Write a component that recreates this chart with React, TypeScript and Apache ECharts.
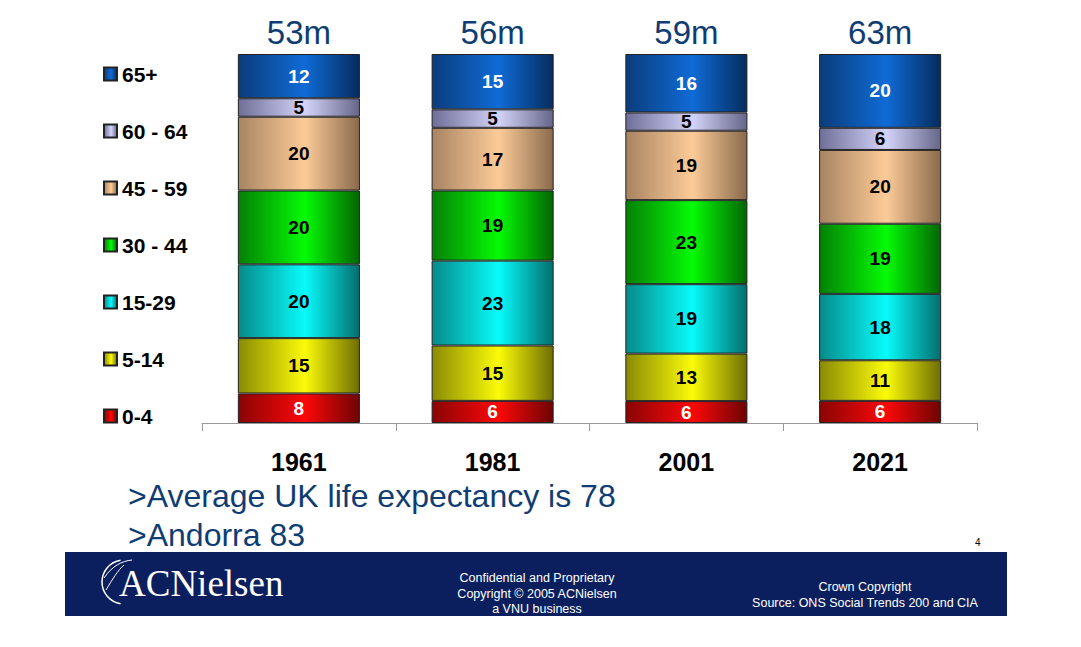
import React, { useEffect, useRef } from "react";
import * as echarts from "echarts";

const years = ["1961", "1981", "2001", "2021"];
const totals = ["53m", "56m", "59m", "63m"];
const ageGroups = ["0-4", "5-14", "15-29", "30 - 44", "45 - 59", "60 - 64", "65+"];
const age0to4 = [8, 6, 6, 6];
const age5to14 = [15, 15, 13, 11];
const age15to29 = [20, 23, 19, 18];
const age30to44 = [20, 19, 23, 19];
const age45to59 = [20, 17, 19, 20];
const age60to64 = [5, 5, 5, 6];
const age65plus = [12, 15, 16, 20];
const seriesValues = [age0to4, age5to14, age15to29, age30to44, age45to59, age60to64, age65plus];

const palette = [
  ["#8A0404", "#FB0808", "#6E0404"],
  ["#8A8A04", "#FBFB08", "#6E6E04"],
  ["#068A8A", "#08FBFB", "#046E6E"],
  ["#048004", "#05FB05", "#036603"],
  ["#A88462", "#FCCB98", "#8A6A4C"],
  ["#6E6E98", "#D4D4FA", "#66668A"],
  ["#0B3C7C", "#0F6BD6", "#062C5E"],
];
const labelColors = ["#fff", "#000", "#000", "#000", "#000", "#000", "#fff"];
const sans = "Arial, 'Liberation Sans', sans-serif";

function grad(c: string[]) {
  return new echarts.graphic.LinearGradient(0, 0, 1, 0, [
    { offset: 0, color: c[0] },
    { offset: 0.55, color: c[1] },
    { offset: 1, color: c[2] },
  ]);
}

export default function App() {
  const ref = useRef<HTMLDivElement>(null);
  useEffect(() => {
    if (!ref.current) return;
    const chart = echarts.init(ref.current, null, { renderer: "svg" });
    const sums = years.map((_, i) => seriesValues.reduce((s, arr) => s + arr[i], 0));
    const series: any[] = ageGroups.map((name, k) => ({
      name,
      type: "bar",
      stack: "a",
      barWidth: "63%",
      data: seriesValues[k].map((v, i) => ({ value: (v / sums[i]) * 100, raw: v })),
      itemStyle: { color: grad(palette[k]), borderColor: "#222", borderWidth: 1 },
      label: {
        show: true,
        position: "inside",
        color: labelColors[k],
        fontFamily: sans,
        fontWeight: "bold",
        fontSize: 19,
        formatter: (p: any) => String(p.data.raw),
      },
    }));
    series.push({
      name: "total",
      type: "bar",
      stack: "a",
      barWidth: "63%",
      data: years.map(() => 0),
      itemStyle: { color: "transparent", borderWidth: 0 },
      label: {
        show: true,
        position: "top",
        distance: 5,
        color: "#0F3D73",
        fontFamily: sans,
        fontSize: 33,
        formatter: (p: any) => totals[p.dataIndex],
      },
    });
    const white = { fill: "#fff", fontFamily: sans, fontSize: 12.5, textAlign: "center" };
    chart.setOption({
      animation: false,
      backgroundColor: "#fff",
      grid: { left: 202, right: 104, top: 54, bottom: 224 },
      legend: {
        orient: "vertical",
        left: 103,
        top: 63,
        padding: 0,
        itemWidth: 13,
        itemHeight: 13,
        itemGap: 35,
        icon: "rect",
        data: ["65+", "60 - 64", "45 - 59", "30 - 44", "15-29", "5-14", "0-4"],
        textStyle: {
          fontFamily: sans,
          fontWeight: "bold",
          fontSize: 21,
          lineHeight: 22,
          color: "#000",
        },
        selectedMode: false,
      },
      xAxis: {
        type: "category",
        data: years,
        axisLine: { lineStyle: { color: "#999", width: 1 } },
        axisTick: { show: true, length: 8, lineStyle: { color: "#999" } },
        axisLabel: {
          margin: 26,
          color: "#000",
          fontFamily: sans,
          fontWeight: "bold",
          fontSize: 25,
        },
      },
      yAxis: { type: "value", min: 0, max: 100, show: false },
      series,
      graphic: [
        {
          type: "text",
          left: 128,
          top: 480,
          style: { text: ">Average UK life expectancy is 78", fill: "#0F3D73", fontFamily: sans, fontSize: 32 },
        },
        {
          type: "text",
          left: 128,
          top: 519,
          style: { text: ">Andorra 83", fill: "#0F3D73", fontFamily: sans, fontSize: 32 },
        },
        {
          type: "text",
          left: 975,
          top: 537,
          style: { text: "4", fill: "#000", fontFamily: sans, fontSize: 10 },
        },
        {
          type: "rect",
          shape: { x: 65, y: 552, width: 942, height: 64 },
          style: { fill: "#0B1F5E" },
        },
        {
          type: "arc",
          shape: { cx: 124, cy: 582, r: 22, startAngle: Math.PI * 0.55, endAngle: Math.PI * 1.45 },
          style: { stroke: "#fff", lineWidth: 1.5, fill: "none" },
        },
        {
          type: "bezierCurve",
          shape: { x1: 104, y1: 578, x2: 132, y2: 560, cpx1: 112, cpy1: 566, cpx2: 122, cpy2: 561 },
          style: { stroke: "#fff", lineWidth: 1, fill: "none" },
        },
        {
          type: "bezierCurve",
          shape: { x1: 106, y1: 590, x2: 124, y2: 565, cpx1: 112, cpy1: 580, cpx2: 118, cpy2: 570 },
          style: { stroke: "#fff", lineWidth: 1, fill: "none" },
        },
        {
          type: "text",
          left: 119,
          top: 565,
          style: { text: "ACNielsen", fill: "#fff", fontFamily: "'Liberation Serif', 'Times New Roman', serif", fontSize: 37 },
        },
        { type: "text", x: 537, y: 571, style: { ...white, text: "Confidential and Proprietary" } },
        { type: "text", x: 537, y: 587, style: { ...white, text: "Copyright \u00A9 2005 ACNielsen" } },
        { type: "text", x: 537, y: 602, style: { ...white, text: "a VNU business" } },
        { type: "text", x: 865, y: 580, style: { ...white, text: "Crown Copyright" } },
        { type: "text", x: 865, y: 596, style: { ...white, text: "Source: ONS Social Trends 200 and CIA" } },
      ],
    });
    return () => chart.dispose();
  }, []);
  return <div ref={ref} style={{ position: "fixed", left: 0, top: 0, width: 1081, height: 647 }} />;
}
